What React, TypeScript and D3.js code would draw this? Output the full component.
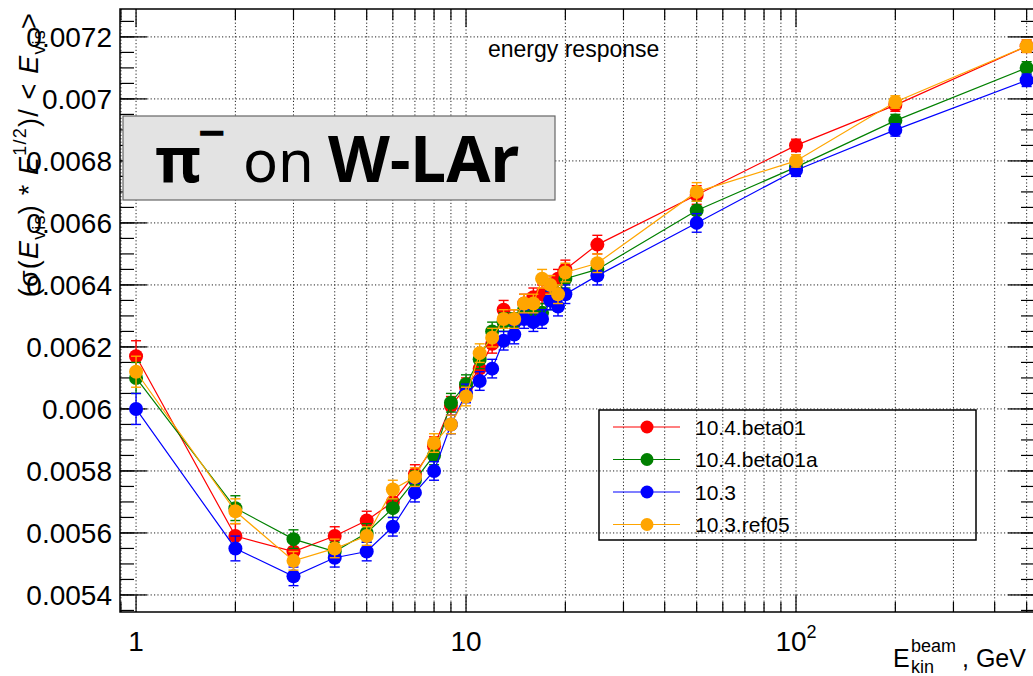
import React from 'react';
import * as d3 from 'd3';

// beam kinetic energies, GeV
const energies = [1, 2, 3, 4, 5, 6, 7, 8, 9, 10, 11, 12, 13, 14, 15, 16, 17, 18, 19, 20, 25, 50, 100, 200, 500];

const seriesNames = ['10.4.beta01', '10.4.beta01a', '10.3', '10.3.ref05'];
const seriesColors = ['#ff0000', '#008000', '#0000ff', '#ffa500'];

const beta01 = [0.00617, 0.00559, 0.00554, 0.00559, 0.00564, 0.0057, 0.00579, 0.00588, 0.00601, 0.00607, 0.00613, 0.00621, 0.00632, 0.00629, 0.00634, 0.00636, 0.00637, 0.0064, 0.00642, 0.00645, 0.00653, 0.00669, 0.00685, 0.00698, 0.00717];
const beta01a = [0.0061, 0.00568, 0.00558, 0.00554, 0.0056, 0.00568, 0.00577, 0.00585, 0.00602, 0.00608, 0.00616, 0.00625, 0.00628, 0.00628, 0.00632, 0.00631, 0.00631, 0.00635, 0.00637, 0.00642, 0.00645, 0.00664, 0.00678, 0.00693, 0.0071];
const v103 = [0.006, 0.00555, 0.00546, 0.00552, 0.00554, 0.00562, 0.00573, 0.0058, 0.00595, 0.00605, 0.00609, 0.00613, 0.00622, 0.00624, 0.00629, 0.00628, 0.00629, 0.00635, 0.00633, 0.00637, 0.00643, 0.0066, 0.00677, 0.0069, 0.00706];
const ref05 = [0.00612, 0.00567, 0.00551, 0.00555, 0.00559, 0.00574, 0.00578, 0.00589, 0.00595, 0.00604, 0.00618, 0.00623, 0.00629, 0.00629, 0.00634, 0.00634, 0.00642, 0.0064, 0.00637, 0.00644, 0.00647, 0.0067, 0.0068, 0.00699, 0.00717];
const errors = [0.00005, 0.00004, 0.00003, 0.00003, 0.00003, 0.00003, 0.00003, 0.00003, 0.00003, 0.00003, 0.00003, 0.00003, 0.00003, 0.00003, 0.00003, 0.00003, 0.00003, 0.00003, 0.00003, 0.00003, 0.00003, 0.00003, 0.00002, 0.00002, 0.00002];

const xLabelValues = [1, 10, 100];
const xLabelTexts = [['1', ''], ['10', ''], ['10', '2']];

const allSeries = [beta01, beta01a, v103, ref05];

const width = 1033;
const height = 676;
const frame = { left: 120, right: 1035, top: 9, bottom: 612 };
const font = 'Liberation Sans, Arial, Helvetica, sans-serif';

function App() {
  const x = d3.scaleLog().domain([0.894, 530]).range([frame.left, frame.right]);
  const y = d3.scaleLinear().domain([0.005345, 0.00729]).range([frame.bottom, frame.top]);

  const xTicks = x.ticks();
  const yMajor = y.ticks(10);
  const yMinor = y.ticks(40);
  const fmt = d3.format('.2~r');
  const isDecade = (v: number) => Math.abs(Math.log10(v) - Math.round(Math.log10(v))) < 1e-9;

  const line = d3.line<number>()
    .x((d, i) => x(energies[i]))
    .y(d => y(d));

  return (
    <svg width={width} height={height} style={{ position: 'absolute', left: 0, top: 0, background: '#fff' }}>
      {/* grid */}
      <g stroke="#222" strokeWidth={1} strokeDasharray="1.2 2.2">
        {xTicks.map((t, i) => (
          <line key={'gx' + i} x1={x(t)} x2={x(t)} y1={frame.top} y2={frame.bottom} />
        ))}
        {yMajor.map((t, i) => (
          <line key={'gy' + i} x1={frame.left} x2={frame.right} y1={y(t)} y2={y(t)} />
        ))}
      </g>

      {/* axes ticks */}
      <g stroke="#000" strokeWidth={1.2}>
        {xTicks.map((t, i) => {
          const big = isDecade(t);
          return (
            <g key={'tx' + i}>
              <line x1={x(t)} x2={x(t)} y1={frame.bottom} y2={frame.bottom - (big ? 17 : 10)} />
              <line x1={x(t)} x2={x(t)} y1={frame.top} y2={frame.top + (big ? 18 : 11)} />
            </g>
          );
        })}
        {yMinor.map((t, i) => (
          <g key={'tym' + i}>
            <line x1={frame.left} x2={frame.left + 14} y1={y(t)} y2={y(t)} />
            <line x1={frame.right} x2={frame.right - 14} y1={y(t)} y2={y(t)} />
          </g>
        ))}
        {yMajor.map((t, i) => (
          <g key={'tyM' + i}>
            <line x1={frame.left} x2={frame.left + 27} y1={y(t)} y2={y(t)} />
            <line x1={frame.right} x2={frame.right - 27} y1={y(t)} y2={y(t)} />
          </g>
        ))}
      </g>
      <rect x={frame.left} y={frame.top} width={frame.right - frame.left} height={frame.bottom - frame.top}
        fill="none" stroke="#000" strokeWidth={1.5} />

      {/* tick labels */}
      <g fontFamily={font} fontSize={28} fill="#000">
        {yMajor.map((t, i) => (
          <text key={'ly' + i} x={112} y={y(t)} dy="0.36em" textAnchor="end">{fmt(t)}</text>
        ))}
        {xLabelValues.map((v, i) => (
          <text key={'lx' + i} x={x(v)} y={651} textAnchor="middle">
            {xLabelTexts[i][0]}
            {xLabelTexts[i][1] && <tspan fontSize={18} dy={-13}>{xLabelTexts[i][1]}</tspan>}
          </text>
        ))}
      </g>

      {/* axis titles */}
      <text fontFamily={font} fontSize={27} fill="#000" textAnchor="end" letterSpacing={1.2}
        transform="translate(38,12) rotate(-90)">
        (σ(<tspan fontStyle="italic">E</tspan><tspan fontSize={18} dy={7}>vis</tspan>
        <tspan dy={-7}>)  *  </tspan><tspan fontStyle="italic">E</tspan>
        <tspan fontSize={18} dy={-12}>1/2</tspan><tspan dy={12}>)/  &lt;  </tspan>
        <tspan fontStyle="italic">E</tspan><tspan fontSize={18} dy={7}>vis</tspan><tspan dy={-7}>&gt;</tspan>
      </text>
      <g fontFamily={font} fill="#000">
        <text x={893} y={667} fontSize={25}>E</text>
        <text x={911} y={652} fontSize={18}>beam</text>
        <text x={911} y={673} fontSize={18}>kin</text>
        <text x={962} y={667} fontSize={25}>, GeV</text>
      </g>
      <text x={488} y={57} fontFamily={font} fontSize={23} fill="#000">energy response</text>

      {/* data series */}
      {allSeries.map((s, k) => (
        <g key={'s' + k} stroke={seriesColors[k]} fill={seriesColors[k]}>
          <path d={line(s) || ''} fill="none" strokeWidth={1.2} />
          {s.map((v, i) => (
            <g key={i}>
              <line x1={x(energies[i])} x2={x(energies[i])} y1={y(v - errors[i])} y2={y(v + errors[i])} strokeWidth={1.4} />
              <line x1={x(energies[i]) - 5} x2={x(energies[i]) + 5} y1={y(v + errors[i])} y2={y(v + errors[i])} strokeWidth={1.4} />
              <line x1={x(energies[i]) - 5} x2={x(energies[i]) + 5} y1={y(v - errors[i])} y2={y(v - errors[i])} strokeWidth={1.4} />
              <circle cx={x(energies[i])} cy={y(v)} r={7} stroke="none" />
            </g>
          ))}
        </g>
      ))}

      {/* legend */}
      <rect x={599} y={410} width={377} height={130} fill="none" stroke="#000" strokeWidth={1.5} />
      {seriesNames.map((name, k) => (
        <g key={'lg' + k}>
          <line x1={613} x2={680} y1={427 + k * 32.5} y2={427 + k * 32.5} stroke={seriesColors[k]} strokeWidth={1.2} />
          <circle cx={647} cy={427 + k * 32.5} r={6.5} fill={seriesColors[k]} />
          <text x={695} y={427 + k * 32.5} dy="0.36em" fontFamily={font} fontSize={21} fill="#000">{name}</text>
        </g>
      ))}

      {/* label box */}
      <rect x={123} y={116} width={432} height={84} fill="#e3e3e3" stroke="#666" strokeWidth={1.2} />
      <g fontFamily="Noto Sans, Open Sans, sans-serif" fill="#000">
        <text x={155} y={182} fontSize={62} fontWeight="bold">π</text>
        <text x={198} y={150} fontSize={48} fontWeight="bold">−</text>
        <text x={243} y={182} fontSize={58}>on</text>
        <text x={328} y={182} fontSize={64} fontWeight="bold">W-LAr</text>
      </g>
    </svg>
  );
}

export default App;
